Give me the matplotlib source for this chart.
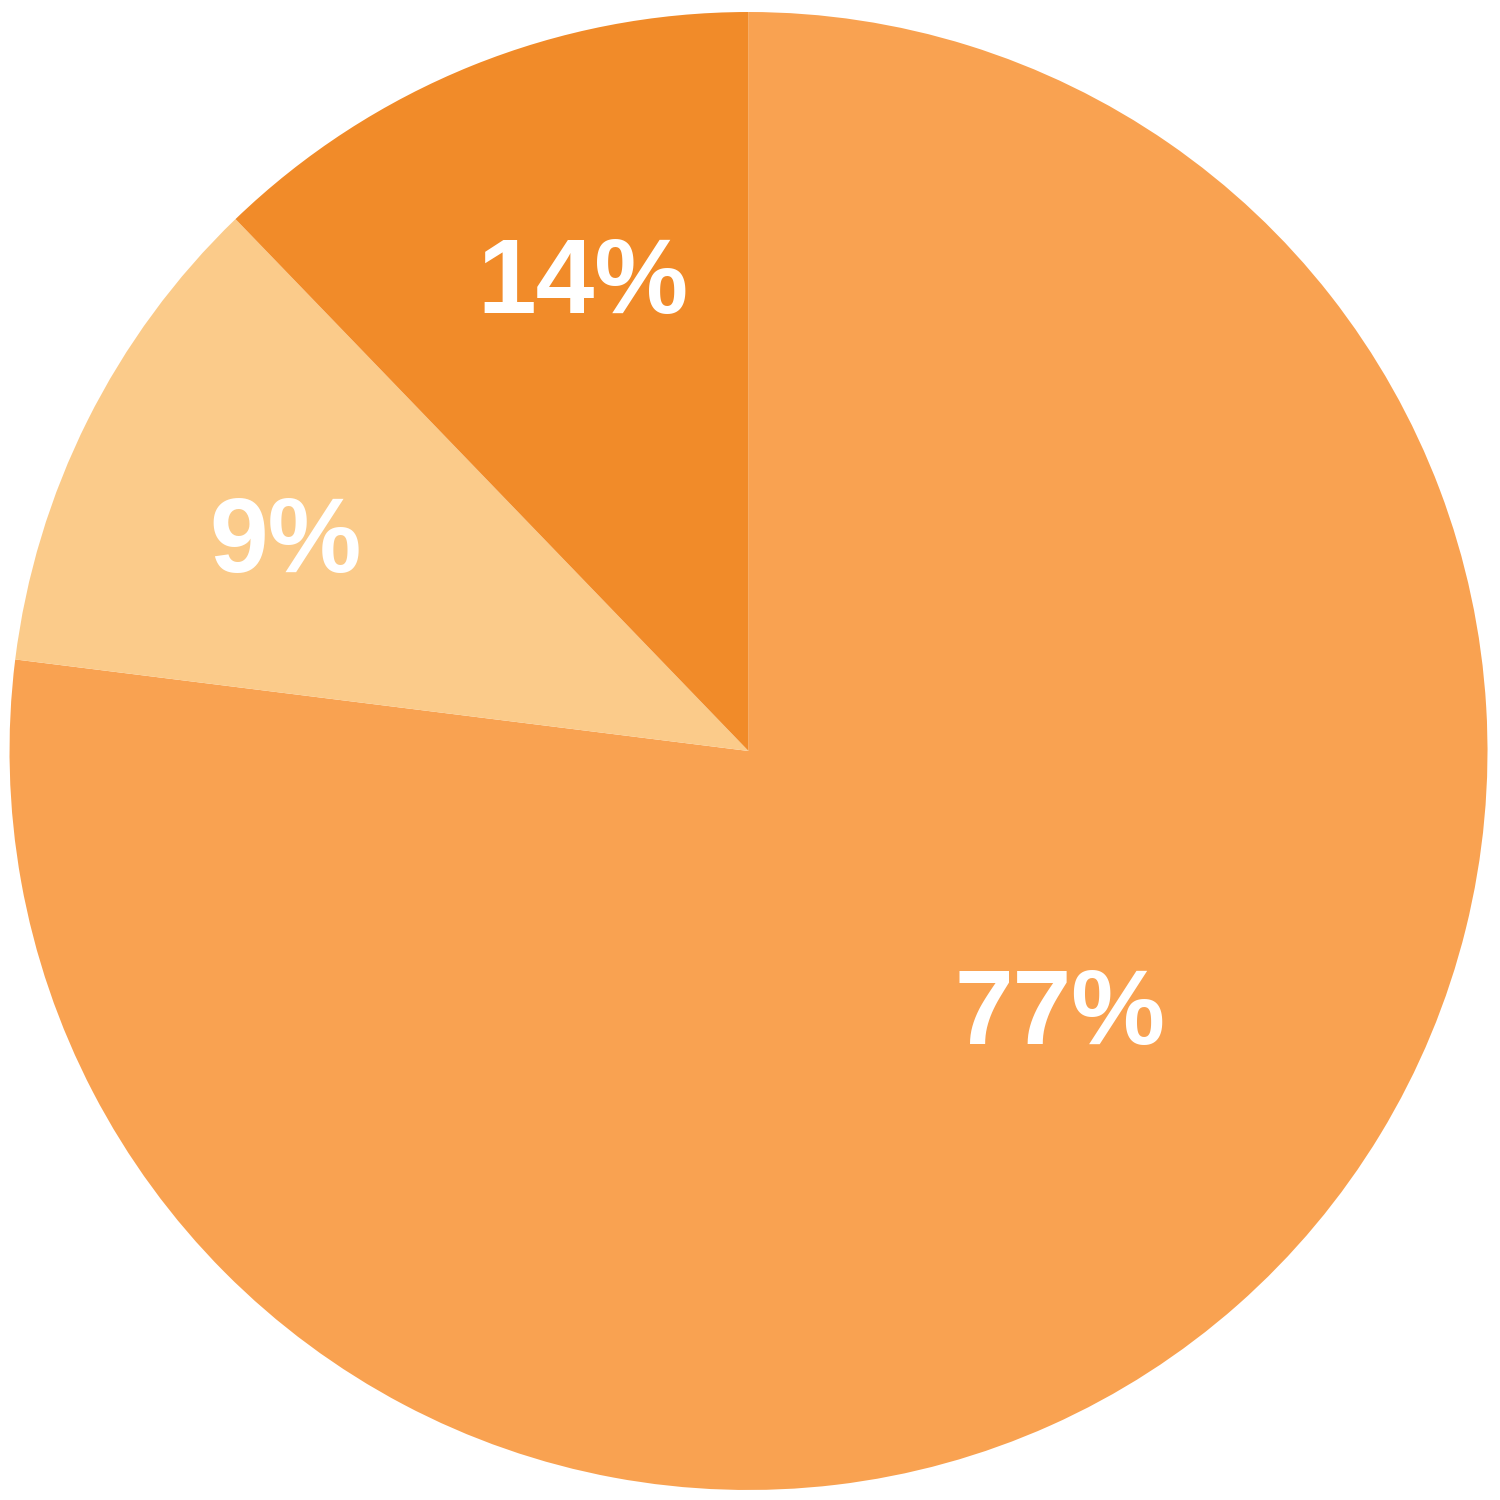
import numpy as np
import matplotlib.pyplot as plt

# slice sizes as drawn (percent), clockwise from 12 o'clock
sizes = [76.9, 10.8, 12.2]
labels = ["77%", "9%", "14%"]
colors = ["#F9A251", "#FBCB8A", "#F18B29"]

# label placement: radial distance and angle (deg) for each label
label_r = [0.549, 0.689, 0.675]
label_ang = [-39.9, 155.5, 109.4]
lift = 0.008  # small upward nudge so the glyphs sit like the original

fig = plt.figure(figsize=(15, 15), dpi=100)
ax = fig.add_axes([0, 0, 1, 1])

wedges, _ = ax.pie(sizes, colors=colors, startangle=90, counterclock=False,
                   radius=1.0, wedgeprops=dict(linewidth=0, antialiased=True))

for lab, r, a in zip(labels, label_r, label_ang):
    t = np.deg2rad(a)
    ax.text(r * np.cos(t), r * np.sin(t) + lift, lab, ha="center", va="center_baseline",
            fontsize=76, fontweight="bold", color="white", family="Liberation Sans")

ax.set_xlim(-1.0129, 1.0169)
ax.set_ylim(-1.0135, 1.0162)
ax.set_aspect("equal")
ax.axis("off")

fig.savefig("out.png", dpi=100, facecolor="white")
